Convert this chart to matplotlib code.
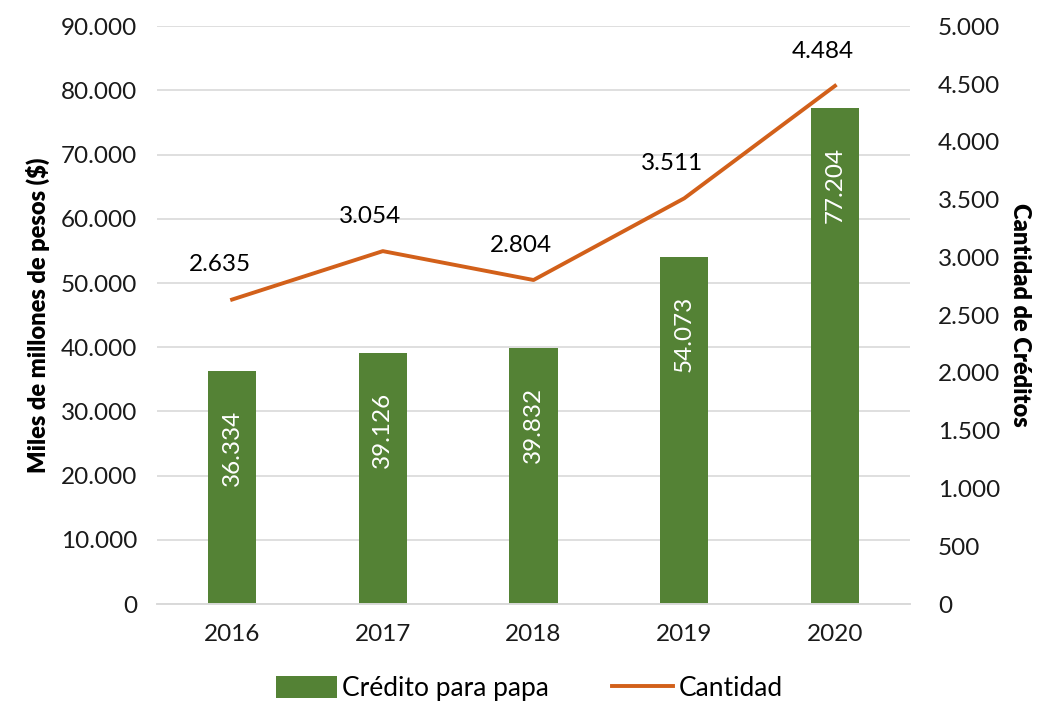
import matplotlib.pyplot as plt
import numpy as np

plt.rcParams['font.family'] = ['Lato', 'DejaVu Sans']

years = ["2016", "2017", "2018", "2019", "2020"]
credito = [36334, 39126, 39832, 54073, 77204]
cantidad = [2635, 3054, 2804, 3511, 4484]

green = "#548235"
orange = "#D2601A"


def fmt(v):
    return f"{v:,.0f}".replace(",", ".")


fig = plt.figure(figsize=(10.38, 7.09), dpi=100)
ax = fig.add_axes([0.151, 0.148, 0.726, 0.815])
ax2 = ax.twinx()

x = np.arange(len(years))
ax.bar(x, credito, width=0.32, color=green, zorder=2, label="Crédito para papa")
ax2.plot(x, cantidad, color=orange, lw=2.8, zorder=3, label="Cantidad")

# bar labels inside near the top
for xi, v in zip(x, credito):
    ax.annotate(fmt(v), (xi, v), xytext=(0, -28), textcoords="offset points",
                rotation=90, ha="center", va="top", color="white", fontsize=17.5)

# line labels above points
for xi, v in zip(x, cantidad):
    ax2.annotate(fmt(v), (xi, v), xytext=(-9, 25), textcoords="offset points",
                 ha="center", va="center", color="black", fontsize=17.5)

ax.set_xlim(-0.5, 4.5)
ax.set_ylim(0, 90000)
ax2.set_ylim(0, 5000)
ax.set_yticks(np.arange(0, 90001, 10000))
ax2.set_yticks(np.arange(0, 5001, 500))
ax.set_yticklabels([fmt(v) for v in ax.get_yticks()])
ax2.set_yticklabels([fmt(v) for v in ax2.get_yticks()])
ax.set_xticks(x)
ax.set_xticklabels(years)

ax.grid(axis="y", color="#D9D9D9", lw=1.2, zorder=0)
ax.set_axisbelow(True)
for a in (ax, ax2):
    for s in ("top", "left", "right"):
        a.spines[s].set_visible(False)
    a.spines["bottom"].set_color("#D9D9D9")
    a.spines["bottom"].set_linewidth(1.2)
    a.tick_params(length=0, labelsize=17.5, colors="#1a1a1a")
ax.tick_params(axis="y", pad=14)
ax.tick_params(axis="x", pad=14)
ax2.tick_params(axis="y", pad=20)

ax.set_ylabel("Miles de millones de pesos ($)", fontsize=17, fontweight="heavy", labelpad=8)
ax2.set_ylabel("Cantidad de Créditos", fontsize=17, fontweight="heavy", rotation=270, labelpad=22)

h1, l1 = ax.get_legend_handles_labels()
h2, l2 = ax2.get_legend_handles_labels()
fig.legend(h1 + h2, l1 + l2, loc="lower center", bbox_to_anchor=(0.51, -0.022), ncol=2,
           frameon=False, fontsize=19, handlelength=2.3, handleheight=0.9,
           columnspacing=2.4, handletextpad=0.2)

plt.savefig("out.png", dpi=100)
